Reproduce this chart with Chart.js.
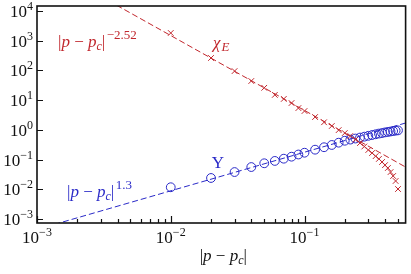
<!DOCTYPE html>
<html>
<head>
<meta charset="utf-8">
<script src="https://cdn.jsdelivr.net/npm/chart.js@4/dist/chart.umd.min.js"></script>
<style>
  html, body { margin: 0; padding: 0; background: #fff; }
  #wrap { width: 411px; height: 274px; }
</style>
</head>
<body>
<div id="wrap"><canvas id="chart" width="411" height="274"></canvas></div>
<script>
// DATA
const pValues = [0.01, 0.02, 0.03, 0.04, 0.05, 0.06, 0.07, 0.08, 0.09, 0.10,
  0.12, 0.14, 0.16, 0.18, 0.20, 0.22, 0.24, 0.26, 0.28, 0.30,
  0.32, 0.34, 0.36, 0.38, 0.40, 0.42, 0.44, 0.46, 0.48, 0.50];
const upsilonValues = [0.0117, 0.024, 0.038, 0.056, 0.075, 0.09, 0.107, 0.125, 0.148, 0.17,
  0.215, 0.26, 0.31, 0.37, 0.43, 0.47, 0.51, 0.55, 0.59, 0.63,
  0.67, 0.71, 0.75, 0.78, 0.82, 0.85, 0.88, 0.91, 0.94, 0.96];
const chiValues = [1820, 262, 95, 44, 26, 15, 11, 8, 5.4, 4.3,
  2.7, 1.8, 1.35, 0.98, 0.78, 0.62, 0.47, 0.36, 0.275, 0.21,
  0.166, 0.13, 0.105, 0.083, 0.065, 0.052, 0.038, 0.028, 0.019, 0.0102];

// dashed power-law guides (end points)
const chiFitX = [0.003, 0.57];
const chiFitY = [31000, 0.056];
const upsFitX = [0.001, 0.57];
const upsFitY = [0.000445, 1.7];

// axes
const xMin = 0.001, xMax = 0.57;
const yMin = 0.000733, yMax = 14730;
const xMajorExp = [-3, -2, -1];
const xMinorTicks = [0.002, 0.003, 0.004, 0.005, 0.006, 0.007, 0.008, 0.009,
  0.02, 0.03, 0.04, 0.05, 0.06, 0.07, 0.08, 0.09, 0.2, 0.3, 0.4, 0.5];
const yMajorExp = [-3, -2, -1, 0, 1, 2, 3, 4];

const RED = "#c1272d";
const BLUE = "#2a2ac8";
const SERIF = '"Liberation Serif", "DejaVu Serif", serif';

function pts(xs, ys) {
  return xs.map((x, i) => ({ x: x, y: ys[i] }));
}

function minus(n) {
  return n < 0 ? "\u2212" + Math.abs(n) : String(n);
}

// draw a run of text pieces with own font / vertical offset
function richText(ctx, x, y, parts, align, color) {
  let w = 0;
  parts.forEach((p) => {
    ctx.font = p.f + " " + SERIF;
    p.w = ctx.measureText(p.t).width;
    w += p.w + (p.gap || 0);
  });
  let cx = x;
  if (align == "center") cx = x - w / 2;
  if (align == "right") cx = x - w;
  ctx.fillStyle = color;
  ctx.textBaseline = "alphabetic";
  ctx.textAlign = "left";
  parts.forEach((p) => {
    cx += p.gap || 0;
    ctx.font = p.f + " " + SERIF;
    ctx.fillText(p.t, cx, y + (p.dy || 0));
    cx += p.w;
  });
}

function absLabel(sup) {
  const parts = [
    { t: "|", f: "17px" },
    { t: "p", f: "italic 17px" },
    { t: " \u2212 ", f: "17px" },
    { t: "p", f: "italic 17px" },
    { t: "c", f: "italic 12px", dy: 3 },
    { t: "|", f: "17px" },
  ];
  if (sup) parts.push({ t: sup, f: "13px", dy: -8, gap: 1.5 });
  return parts;
}

const decorPlugin = {
  id: "decor",
  afterDraw(chart) {
    const ctx = chart.ctx;
    const a = chart.chartArea;
    const xs = chart.scales.x;
    const ys = chart.scales.y;
    ctx.save();

    // frame
    ctx.strokeStyle = "#111";
    ctx.lineWidth = 1.6;
    ctx.strokeRect(a.left, a.top, a.right - a.left, a.bottom - a.top);

    // ticks (inward)
    ctx.lineWidth = 1.2;
    ctx.beginPath();
    yMajorExp.forEach((e) => {
      const py = Math.round(ys.getPixelForValue(Math.pow(10, e))) + 0.5;
      ctx.moveTo(a.left, py);
      ctx.lineTo(a.left + 6, py);
    });
    xMajorExp.forEach((e) => {
      const px = Math.round(xs.getPixelForValue(Math.pow(10, e))) + 0.5;
      ctx.moveTo(px, a.bottom);
      ctx.lineTo(px, a.bottom - 7);
    });
    xMinorTicks.forEach((v) => {
      const px = Math.round(xs.getPixelForValue(v)) + 0.5;
      ctx.moveTo(px, a.bottom);
      ctx.lineTo(px, a.bottom - 4);
    });
    ctx.stroke();

    // tick labels
    yMajorExp.forEach((e) => {
      const py = ys.getPixelForValue(Math.pow(10, e));
      richText(ctx, a.left - 4, py + 6,
        [{ t: "10", f: "17px" }, { t: minus(e), f: "12px", dy: -7 }], "right", "#111");
    });
    xMajorExp.forEach((e) => {
      const px = xs.getPixelForValue(Math.pow(10, e));
      richText(ctx, px, a.bottom + 20,
        [{ t: "10", f: "17px" }, { t: minus(e), f: "12px", dy: -7 }], "center", "#111");
    });

    // axis title
    richText(ctx, (a.left + a.right) / 2 + 2, 261, absLabel(null), "center", "#111");

    // annotations
    richText(ctx, 58, 47, absLabel("\u22122.52"), "left", RED);
    richText(ctx, 213, 48, [{ t: "\u03c7", f: "italic 17px" }, { t: "E", f: "italic 13px", dy: 3, gap: 1 }], "left", RED);
    richText(ctx, 218, 168, [{ t: "\u03a5", f: "17px" }], "center", BLUE);
    richText(ctx, 67, 197, absLabel("1.3"), "left", BLUE);

    ctx.restore();
  },
};

const ctx = document.getElementById("chart").getContext("2d");
const myChart = new Chart(ctx, {
  type: "scatter",
  data: {
    datasets: [
      {
        label: "chi fit",
        data: pts(chiFitX, chiFitY),
        showLine: true,
        borderColor: RED,
        borderWidth: 1,
        borderDash: [6, 3],
        pointRadius: 0,
      },
      {
        label: "upsilon fit",
        data: pts(upsFitX, upsFitY),
        showLine: true,
        borderColor: BLUE,
        borderWidth: 1,
        borderDash: [6, 3],
        pointRadius: 0,
      },
      {
        label: "chi_E",
        data: pts(pValues, chiValues),
        pointStyle: "crossRot",
        pointRadius: 4,
        borderColor: RED,
        backgroundColor: RED,
        pointBorderWidth: 1,
      },
      {
        label: "Upsilon",
        data: pts(pValues, upsilonValues),
        pointStyle: "circle",
        pointRadius: 4.4,
        borderColor: BLUE,
        backgroundColor: "rgba(0,0,0,0)",
        pointBorderWidth: 1,
      },
    ],
  },
  options: {
    responsive: false,
    animation: false,
    devicePixelRatio: 1,
    layout: { padding: { top: 6, right: 3, left: 0, bottom: 0 } },
    plugins: { legend: { display: false }, tooltip: { enabled: false } },
    scales: {
      x: {
        type: "logarithmic",
        min: xMin,
        max: xMax,
        ticks: { display: false },
        grid: { display: false },
        border: { display: false },
        afterFit(scale) { scale.height = 51; },
      },
      y: {
        type: "logarithmic",
        min: yMin,
        max: yMax,
        ticks: { display: false },
        grid: { display: false },
        border: { display: false },
        afterFit(scale) { scale.width = 37; },
      },
    },
  },
  plugins: [decorPlugin],
});
</script>
</body>
</html>
